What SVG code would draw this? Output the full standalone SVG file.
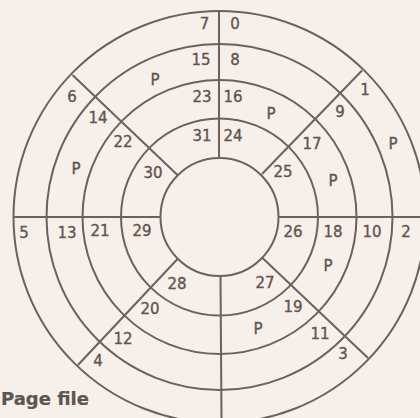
<svg xmlns="http://www.w3.org/2000/svg" width="420" height="418" viewBox="0 0 420 418">
<style>
.ln{stroke:#6b625d;stroke-width:2;fill:none}
text{font-family:"DejaVu Sans","Liberation Sans",sans-serif;font-size:15px;fill:#5e5550;stroke:#5e5550;stroke-width:0.35;text-anchor:middle}
.ttl{font-weight:bold;font-size:18px;text-anchor:start;stroke-width:0.2}
</style>
<rect width="420" height="418" fill="#f7efea"/>
<g id="rings">
<circle class="ln" cx="219.5" cy="217" r="206"/>
<circle class="ln" cx="219.5" cy="217" r="173"/>
<circle class="ln" cx="219.5" cy="217" r="137"/>
<circle class="ln" cx="219.5" cy="217" r="98.5"/>
<circle class="ln" cx="219.5" cy="217" r="59"/>
</g>
<g id="connectors">
<line class="ln" x1="219" y1="11" x2="219" y2="158"/>
<line class="ln" x1="220.5" y1="276" x2="221.5" y2="420"/>
<line class="ln" x1="13.5" y1="217" x2="160.5" y2="217"/>
<line class="ln" x1="278.5" y1="217" x2="426" y2="217"/>
<line class="ln" x1="72.5" y1="75" x2="178" y2="175.5"/>
<line class="ln" x1="362" y1="70.5" x2="262" y2="174"/>
<line class="ln" x1="78" y1="365" x2="177.5" y2="259"/>
<line class="ln" x1="368" y1="358" x2="261.7" y2="257.3"/>
</g>
<g id="labels">
<text x="204.5" y="28.5">7</text>
<text x="235" y="28.5">0</text>
<text x="201" y="65">15</text>
<text x="235" y="65">8</text>
<text x="155" y="84.5">P</text>
<text x="72" y="101.5">6</text>
<text x="365" y="94.5">1</text>
<text x="202" y="101.5">23</text>
<text x="233" y="101.5">16</text>
<text x="271" y="118.5">P</text>
<text x="98" y="122.5">14</text>
<text x="340" y="116.5">9</text>
<text x="123" y="146.5">22</text>
<text x="202" y="140.5">31</text>
<text x="233" y="140.5">24</text>
<text x="312" y="148.5">17</text>
<text x="393" y="148.5">P</text>
<text x="76" y="173.5">P</text>
<text x="153" y="177.5">30</text>
<text x="283" y="176.5">25</text>
<text x="333" y="185.5">P</text>
<text x="24" y="237.5">5</text>
<text x="67" y="237.5">13</text>
<text x="100" y="235.5">21</text>
<text x="142" y="235.5">29</text>
<text x="293" y="236.5">26</text>
<text x="333" y="236.5">18</text>
<text x="372" y="236.5">10</text>
<text x="406" y="236.5">2</text>
<text x="328" y="270.5">P</text>
<text x="177" y="288.5">28</text>
<text x="265" y="287.5">27</text>
<text x="150" y="313.5">20</text>
<text x="293" y="311.5">19</text>
<text x="258" y="333.5">P</text>
<text x="320" y="338.5">11</text>
<text x="123" y="343.5">12</text>
<text x="343" y="358.5">3</text>
<text x="98" y="365.5">4</text>
<text class="ttl" x="1" y="405">Page file</text>
</g>
</svg>
